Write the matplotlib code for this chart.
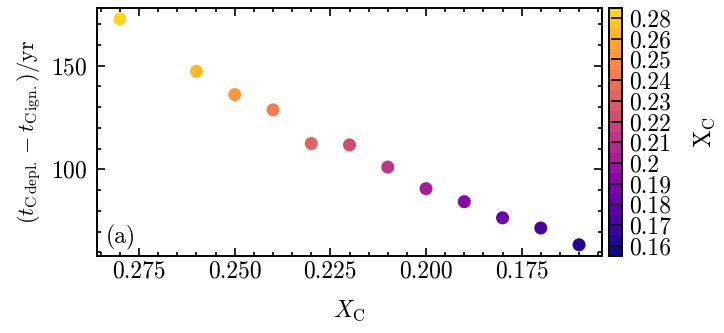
import numpy as np
import matplotlib
matplotlib.use('Agg')
import matplotlib.pyplot as plt
from matplotlib.colors import Normalize, ListedColormap

plt.rcParams['font.family'] = 'serif'
plt.rcParams['font.serif'] = ['cmr10', 'DejaVu Serif']
plt.rcParams['mathtext.fontset'] = 'cm'
plt.rcParams['axes.formatter.use_mathtext'] = True
plt.rcParams['font.size'] = 17

# carbon mass fraction and burning duration
xc = [0.28, 0.26, 0.25, 0.24, 0.23, 0.22, 0.21, 0.20, 0.19, 0.18, 0.17, 0.16]
dt = [172.6, 147.3, 136.1, 128.7, 112.5, 111.8, 101.1, 90.7, 84.4, 76.6, 71.7, 63.6]
cbar_labels = ['0.16', '0.17', '0.18', '0.19', '0.2', '0.21', '0.22', '0.23',
               '0.24', '0.25', '0.26', '0.28']

n = len(xc)
# colour index: smallest X_C -> 0
order = np.argsort(xc)
idx = np.empty(n)
idx[order] = np.arange(n)

cmap = ListedColormap(plt.get_cmap('plasma')(np.linspace(0.0, 0.92, 2 * n)))
norm = Normalize(vmin=-0.5, vmax=n - 0.5)

fig = plt.figure(figsize=(7.24, 3.33), dpi=100)
ax = fig.add_axes([0.134, 0.231, 0.6975, 0.746])
cax = fig.add_axes([0.841, 0.231, 0.018, 0.746])

sc = ax.scatter(xc, dt, c=idx, cmap=cmap, norm=norm, s=88, linewidths=0)
ax.invert_xaxis()

ax.set_xticks([0.275, 0.250, 0.225, 0.200, 0.175])
ax.set_xticklabels(['0.275', '0.250', '0.225', '0.200', '0.175'])
ax.set_xticks(np.arange(0.155, 0.290, 0.005), minor=True)
ax.set_yticks([100, 150])
ax.set_yticks(np.arange(60, 180, 10), minor=True)

for a in (ax, cax):
    for s in a.spines.values():
        s.set_linewidth(1.4)

ax.tick_params(which='both', direction='in', top=True, right=True, width=1.2)
ax.tick_params(which='major', length=6)
ax.tick_params(which='minor', length=3)
ax.tick_params(axis='x', pad=3)
ax.tick_params(axis='y', pad=7)

ax.set_xlabel(r'$X_{\mathrm{C}}$', fontsize=17, labelpad=12)
ax.set_ylabel(r'$(t_{\mathrm{C\,depl.}}-t_{\mathrm{C\,ign.}})/\mathrm{yr}$', fontsize=16, labelpad=6)
ax.text(0.018, 0.025, '(a)', transform=ax.transAxes, ha='left', va='bottom', fontsize=17)

cb = fig.colorbar(sc, cax=cax, ticks=np.arange(n))
cb.set_ticklabels(cbar_labels)
cb.outline.set_linewidth(1.4)
cax.tick_params(direction='in', length=8, width=1.2, labelsize=17, pad=5)
cax.minorticks_off()
cb.set_label(r'X$_{\mathrm{C}}$', fontsize=17, labelpad=16)

fig.savefig('out.png', dpi=100)
